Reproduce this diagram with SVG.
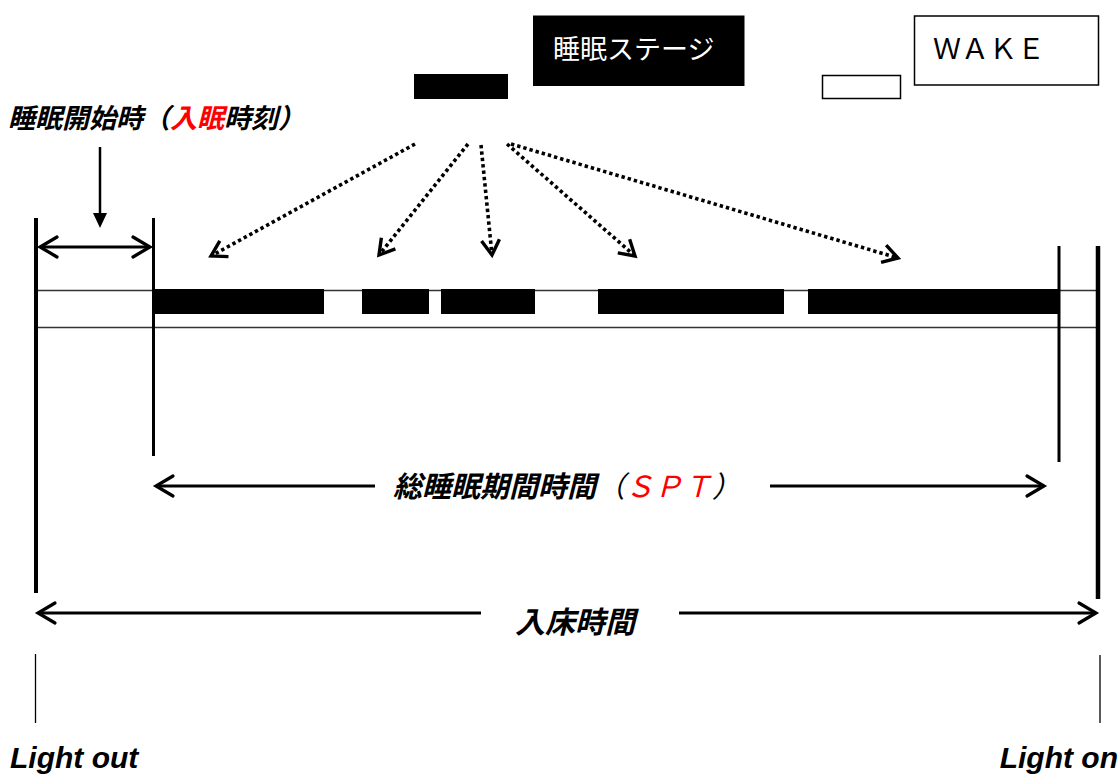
<svg xmlns="http://www.w3.org/2000/svg" width="1118" height="774" viewBox="0 0 1118 774">
<style>
.jp{font-family:"Noto Sans CJK JP","Liberation Sans",sans-serif;}
.lab{font-weight:bold;font-style:italic;fill:#000;}
.red{fill:#ff0000;}
.en{font-family:"Liberation Sans",Arial,sans-serif;font-weight:bold;font-style:italic;font-size:30px;fill:#000;}
.solid{stroke:#000;stroke-width:3;fill:none;}
.dot{stroke:#000;stroke-width:3.6;fill:none;stroke-dasharray:3.4 3;}
.hl{stroke:#333;stroke-width:1.5;fill:none;}
.bar{fill:#000;}
</style>
<defs>
<marker id="chev" markerUnits="userSpaceOnUse" markerWidth="26" markerHeight="26" viewBox="-22 -13 26 26" refX="0" refY="0" orient="auto-start-reverse">
<path d="M-17,-10 L0,0 L-17,10" fill="none" stroke="#000" stroke-width="3.2" stroke-linecap="round" stroke-linejoin="miter"/>
</marker>
<marker id="dchev" markerUnits="userSpaceOnUse" markerWidth="24" markerHeight="24" viewBox="-20 -12 24 24" refX="0" refY="0" orient="auto">
<path d="M-15,-9 L0,0 L-15,9" fill="none" stroke="#000" stroke-width="3.4" stroke-linecap="butt"/>
</marker>
</defs>
<rect width="1118" height="774" fill="#fff"/>

<g id="legend-stage">
<rect x="533" y="15.5" width="211.5" height="70.5" fill="#000"/>
<text class="jp" x="553" y="59" font-size="27" fill="#fff">睡眠ステージ</text>
</g>
<g id="legend-wake">
<rect x="914.5" y="16" width="184" height="69" fill="#fff" stroke="#000" stroke-width="1.5"/>
<text class="jp" x="933" y="59" font-size="28" fill="#000">ＷＡＫＥ</text>
</g>
<g id="swatch-sleep"><rect x="414" y="74" width="94" height="25" fill="#000"/></g>
<g id="swatch-wake"><rect x="822.5" y="75.5" width="78" height="23" fill="#fff" stroke="#000" stroke-width="1.5"/></g>

<g id="label-onset">
<text class="jp lab" x="8" y="128" font-size="27">睡眠開始時（<tspan class="red">入眠</tspan>時刻）</text>
</g>

<g id="timeline">
<line class="hl" x1="36" y1="290.5" x2="1098" y2="290.5"/>
<line class="hl" x1="36" y1="327.5" x2="1098" y2="327.5"/>
<rect class="bar" x="153" y="289" width="171" height="25"/>
<rect class="bar" x="362" y="289" width="67" height="25"/>
<rect class="bar" x="441" y="289" width="94" height="25"/>
<rect class="bar" x="598" y="289" width="186" height="25"/>
<rect class="bar" x="808" y="289" width="251" height="25"/>
</g>

<g id="markers">
<line x1="36" y1="218" x2="36" y2="593" stroke="#000" stroke-width="4"/>
<line x1="1098" y1="246" x2="1098" y2="599" stroke="#000" stroke-width="4.5"/>
<line x1="153.5" y1="218" x2="153.5" y2="456" stroke="#000" stroke-width="3"/>
<line x1="1059" y1="246" x2="1059" y2="462" stroke="#000" stroke-width="3"/>
<line x1="35.5" y1="654" x2="35.5" y2="723" stroke="#000" stroke-width="1.3"/>
<line x1="1100" y1="655" x2="1100" y2="723" stroke="#000" stroke-width="1.3"/>
</g>

<g id="connectors">
<line x1="100" y1="147" x2="100" y2="214" stroke="#000" stroke-width="2.5"/>
<polygon points="93,213 107,213 100,228" fill="#000"/>
<line class="solid" x1="40" y1="247" x2="150" y2="247" marker-start="url(#chev)" marker-end="url(#chev)"/>
<line class="dot" x1="415" y1="144" x2="211" y2="256" marker-end="url(#dchev)"/>
<line class="dot" x1="468" y1="144" x2="379" y2="255" marker-end="url(#dchev)"/>
<line class="dot" x1="481" y1="145" x2="492" y2="255" marker-end="url(#dchev)"/>
<line class="dot" x1="507" y1="144" x2="635" y2="256" marker-end="url(#dchev)"/>
<line class="dot" x1="511" y1="144" x2="898" y2="258" marker-end="url(#dchev)"/>
<line class="solid" x1="156" y1="486" x2="375" y2="486" marker-start="url(#chev)"/>
<line class="solid" x1="770" y1="486" x2="1044" y2="486" marker-end="url(#chev)"/>
<line class="solid" x1="38" y1="613" x2="481" y2="613" marker-start="url(#chev)"/>
<line class="solid" x1="679" y1="613" x2="1096" y2="613" marker-end="url(#chev)"/>
</g>

<g id="label-spt">
<text class="jp lab" x="393" y="497" font-size="29">総睡眠期間時間<tspan font-weight="normal">（</tspan><tspan class="red" font-weight="normal">ＳＰＴ</tspan><tspan font-weight="normal">）</tspan></text>
</g>
<g id="label-bed">
<text class="jp lab" x="515" y="633" font-size="30">入床時間</text>
</g>
<g id="label-lights">
<text class="en" x="10" y="768">Light out</text>
<text class="en" x="1118" y="768" text-anchor="end">Light on</text>
</g>
</svg>
